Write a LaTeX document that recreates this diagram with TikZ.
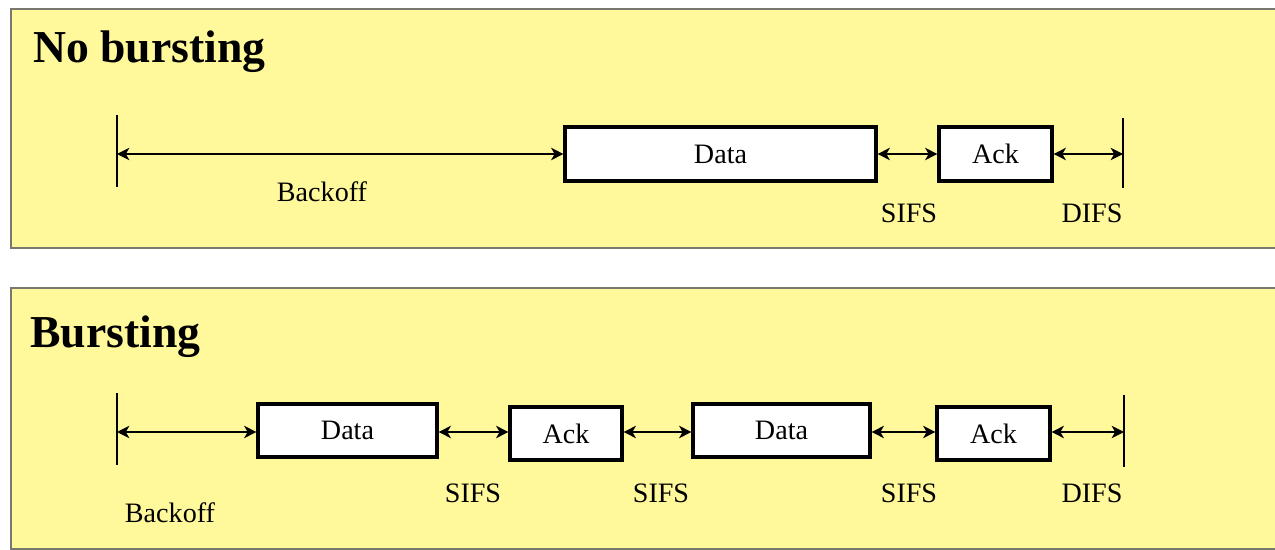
\documentclass[tikz,border=0pt]{standalone}
\usepackage{fontspec}
\setmainfont{Liberation Serif}
\usetikzlibrary{arrows.meta}
\definecolor{panelfill}{RGB}{255,249,155}
\definecolor{panelline}{RGB}{120,120,110}
\tikzset{
    panel/.style =  {draw=panelline,
                    fill=panelfill,
                    line width=1.2pt},
    frame/.style =  {rectangle,
                    fill=white,
                    draw=black,
                    text=black,
                    line width=1.8pt,
                    inner sep=0pt,
                    font=\fontsize{16}{18}\selectfont},
    title/.style =  {anchor=base west,
                    inner sep=0pt,
                    font=\fontsize{26}{30}\selectfont\bfseries},
    lbl/.style =    {inner sep=0pt,
                    font=\fontsize{16}{18}\selectfont},
    tick/.style =   {line width=1.3pt},
    span/.style =   {<->,line width=1.1pt},
    >={Stealth[length=7pt,width=7pt,inset=2pt]}}

\begin{document}
\begin{tikzpicture}[x=0.02cm,y=-0.02cm]
                \useasboundingbox (0,0) rectangle (1275,550);
                % panels
                \path[panel] (11,9) rectangle (1290,248);
                \path[panel] (11,288) rectangle (1290,549);
                % no bursting
                \node[title]        (t1) at (33,63)             {No bursting};
                \node[frame,minimum width=6.22cm,minimum height=1.08cm] (d0) at (720.5,154) {\raisebox{-2pt}{Data}};
                \node[frame,minimum width=2.26cm,minimum height=1.08cm] (a0) at (995.5,154) {\raisebox{-2pt}{Ack}};
                \coordinate         (s0) at (117,154);
                \coordinate         (e0) at (1123,154);
                \draw[tick] (117,115) -- (117,187);
                \draw[tick] (1123,118) -- (1123,188);
                \path [span]    (s0) edge []    (d0.west)
                                (d0.east) edge []    (a0.west)
                                (a0.east) edge []    (e0);
                \node[lbl]          (b0) at (322,192)           {Backoff};
                \node[lbl]          (i0) at (909,213)           {SIFS};
                \node[lbl]          (f0) at (1092,213)          {DIFS};
                % bursting
                \node[title]        (t2) at (30,348)            {Bursting};
                \node[frame,minimum width=3.58cm,minimum height=1.06cm] (d1) at (347.5,430.5) {\raisebox{-2pt}{Data}};
                \node[frame,minimum width=2.24cm,minimum height=1.06cm] (a1) at (566,433.5) {\raisebox{-2pt}{Ack}};
                \node[frame,minimum width=3.54cm,minimum height=1.06cm] (d2) at (781.5,430.5) {\raisebox{-2pt}{Data}};
                \node[frame,minimum width=2.26cm,minimum height=1.06cm] (a2) at (993.5,433.5) {\raisebox{-2pt}{Ack}};
                \coordinate         (s1) at (117,432);
                \coordinate         (e1) at (1124,432);
                \draw[tick] (117,393) -- (117,465);
                \draw[tick] (1124,395) -- (1124,467);
                \path [span]    (s1) edge []    (d1.west |- s1)
                                (d1.east |- s1) edge []    (a1.west |- s1)
                                (a1.east |- s1) edge []    (d2.west |- s1)
                                (d2.east |- s1) edge []    (a2.west |- s1)
                                (a2.east |- s1) edge []    (e1);
                \node[lbl]          (b1) at (170,513)           {Backoff};
                \node[lbl]          (i1) at (473,493)           {SIFS};
                \node[lbl]          (i2) at (661,493)           {SIFS};
                \node[lbl]          (i3) at (909,493)           {SIFS};
                \node[lbl]          (f1) at (1092,493)          {DIFS};
        \end{tikzpicture}
\end{document}
